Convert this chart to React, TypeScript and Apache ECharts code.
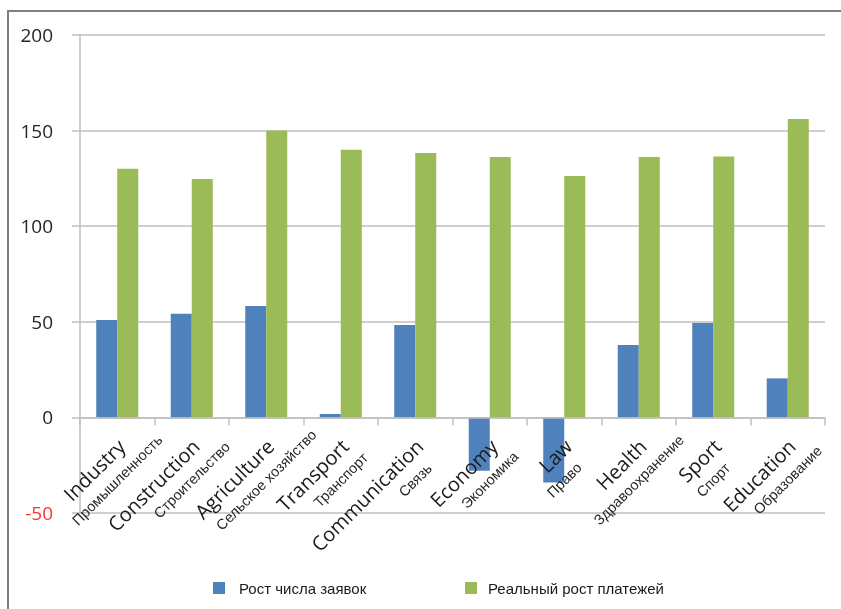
import { useEffect, useRef } from "react";
import * as echarts from "echarts";

const categoriesEn = ["Industry", "Construction", "Agriculture", "Transport", "Communication", "Economy", "Law", "Health", "Sport", "Education"];
const categoriesRu = ["Промышленность", "Строительство", "Сельское хозяйство", "Транспорт", "Связь", "Экономика", "Право", "Здравоохранение", "Спорт", "Образование"];
const seriesNames = ["Рост числа заявок", "Реальный рост платежей"];
const applicationsGrowth = [51, 54.2, 58.3, 1.8, 48.3, -27.9, -34, 37.9, 49.4, 20.4];
const realPaymentsGrowth = [130, 124.7, 150, 140, 138.3, 136.2, 126.3, 136.2, 136.5, 156.1];
const yMin = -50;
const yMax = 200;
const yInterval = 50;

const BLUE = "#4f81bd";
const GREEN = "#9bbb59";
const GRID = "#bfbfbf";
const NARROW = "'Liberation Sans', Arial, sans-serif";

export default function App() {
  const ref = useRef<HTMLDivElement>(null);
  useEffect(() => {
    if (!ref.current) return;
    const chart = echarts.init(ref.current, undefined, { renderer: "svg" });
    chart.setOption({
      animation: false,
      graphic: [
        {
          type: "rect",
          silent: true,
          shape: { x: 8, y: 11, width: 900, height: 700 },
          style: { fill: "none", stroke: "#7f7f7f", lineWidth: 2 },
        },
      ],
      grid: { left: 80, right: 16, top: 35, bottom: 96, outerBoundsMode: "none", containLabel: false },
      legend: [
        {
          data: [seriesNames[0]],
          left: 213,
          top: 579,
          padding: 0,
          itemWidth: 12,
          itemHeight: 12,
          icon: "rect",
          textStyle: { fontFamily: NARROW, fontSize: 15, lineHeight: 18, color: "#1a1a1a", padding: [0, 0, 0, 9] },
        },
        {
          data: [seriesNames[1]],
          left: 465,
          top: 579,
          padding: 0,
          itemWidth: 12,
          itemHeight: 12,
          icon: "rect",
          textStyle: { fontFamily: NARROW, fontSize: 15, lineHeight: 18, color: "#1a1a1a", padding: [0, 0, 0, 6] },
        },
      ],
      xAxis: [
        {
          type: "category",
          data: categoriesEn,
          position: "bottom",
          z: 3,
          axisLine: { onZero: true, lineStyle: { color: GRID, width: 1.5 } },
          axisTick: { show: true, length: 8, lineStyle: { color: GRID, width: 1.5 } },
          axisLabel: {
            interval: 0,
            rotate: 45,
            margin: -66,
            padding: [0, -6, 0, 0],
            fontFamily: "'Open Sans', sans-serif",
            fontSize: 20,
            color: "#1a1a1a",
          },
        },
        {
          type: "category",
          data: categoriesRu,
          position: "bottom",
          z: 3,
          axisLine: { show: false, onZero: false },
          axisTick: { show: false },
          splitLine: { show: false },
          axisLabel: {
            interval: 0,
            rotate: 45,
            align: "center",
            verticalAlign: "middle",
            margin: -33,
            fontFamily: NARROW,
            fontSize: 14.5,
            color: "#262626",
          },
        },
      ],
      yAxis: {
        type: "value",
        min: yMin,
        max: yMax,
        interval: yInterval,
        axisLine: { show: true, lineStyle: { color: GRID, width: 1.5 } },
        axisTick: { show: true, length: 8, lineStyle: { color: GRID, width: 1.5 } },
        splitLine: { show: true, lineStyle: { color: GRID, width: 1.5 } },
        axisLabel: {
          margin: 27,
          fontFamily: "'Open Sans', sans-serif",
          fontSize: 19,
          color: (v: any) => (Number(v) < 0 ? "#ff3333" : "#262626"),
        },
      },
      series: [
        {
          name: seriesNames[0],
          type: "bar",
          xAxisIndex: 0,
          data: applicationsGrowth,
          barGap: "0%",
          barCategoryGap: "43.6%",
          itemStyle: { color: BLUE },
        },
        {
          name: seriesNames[1],
          type: "bar",
          xAxisIndex: 0,
          data: realPaymentsGrowth,
          barGap: "0%",
          barCategoryGap: "43.6%",
          itemStyle: { color: GREEN },
        },
      ],
    });
    return () => chart.dispose();
  }, []);
  return <div ref={ref} style={{ position: "fixed", left: 0, top: 0, width: 841, height: 609 }} />;
}
